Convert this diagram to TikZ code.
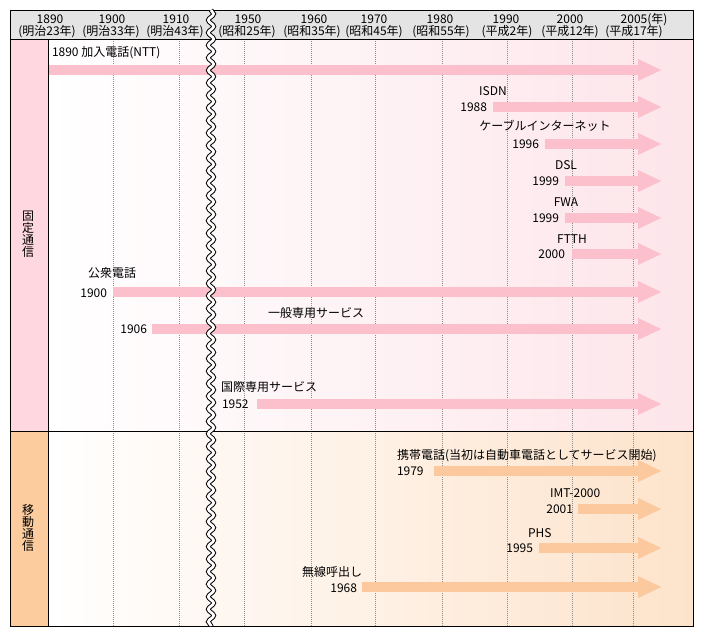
\documentclass[tikz,border=0pt]{standalone}
\usepackage{fontspec}
\setmainfont{Noto Sans CJK JP}
\usetikzlibrary{arrows.meta,decorations.pathmorphing}
\definecolor{hdrgray}{HTML}{E4E4E4}
\definecolor{fixlab}{HTML}{FFD7E0}
\definecolor{moblab}{HTML}{FCCB9E}
\definecolor{fixbg}{HTML}{FDE5EA}
\definecolor{mobbg}{HTML}{FDE3CB}
\definecolor{fixarr}{HTML}{FCC0CC}
\definecolor{mobarr}{HTML}{FCC89E}
\definecolor{gridgray}{HTML}{8C8C8C}
\begin{document}
\begin{tikzpicture}[x=0.75pt,y=-0.75pt,
  font=\fontsize{9}{10}\selectfont,
  txt/.style={inner sep=0pt, outer sep=0pt},
  frame/.style={draw=black, line width=0.75pt},
  gridline/.style={draw=gridgray, line width=0.6pt, dash pattern=on 0.75pt off 0.75pt},
  fixarrow/.style={draw=fixarr, line width=8pt, line cap=butt, -{Triangle[length=18pt,width=15pt]}},
  mobarrow/.style={draw=mobarr, line width=8pt, line cap=butt, -{Triangle[length=18pt,width=15pt]}},
  vlabel/.style={inner sep=0pt, align=center, font=\fontsize{9}{9}\selectfont},
  breakline/.style={draw=black, line width=0.75pt, double=white, double distance=2pt,
    decorate, decoration={snake, segment length=9.4pt, amplitude=2pt}}]
\useasboundingbox (0,0) rectangle (703,637);
\fill[white] (0,0) rectangle (703,637);
% backgrounds
\fill[hdrgray] (10,10) rectangle (693,39);
\fill[fixlab] (10,39) rectangle (48,431);
\fill[moblab] (10,431) rectangle (48,626);
\shade[left color=white, right color=fixbg] (48,39) rectangle (693,431);
\shade[left color=white, right color=mobbg] (48,431) rectangle (693,626);
% grid lines
\foreach \gx in {113,179,244,311,375,442,507,572,633}
  \draw[gridline] (\gx,39) -- (\gx,626);
% header
\foreach \nm/\yx/\yt/\ex/\et in {
  a/50/1890/47/(明治23年), b/112/1900/111/(明治33年), c/176/1910/175/(明治43年),
  d/248/1950/247/(昭和25年), e/314/1960/312/(昭和35年), f/374/1970/374/(昭和45年),
  g/440/1980/441/(昭和55年), h/506/1990/507/(平成2年), i/570/2000/570/(平成12年),
  j/634/2005/634/(平成17年)} {
  \node[txt, anchor=base] (yr\nm) at (\yx,23.5) {\yt};
  \node[txt, anchor=base] (era\nm) at (\ex,35.5) {\et};
}
\node[txt, anchor=base west] (nen) at (yrj.base east) {(年)};
% side labels
\node[vlabel] (lfix) at (28,234) {固\\定\\通\\信};
\node[vlabel] (lmob) at (28,528) {移\\動\\通\\信};
% fixed arrows
\foreach \n/\xs/\yy in {ntt/48/70, isdn/493/107, catv/545/144, dsl/565/181,
  fwa/565/218, ftth/572/254, pub/113/292, lease/152/329, intl/257/404} {
  \coordinate (\n s) at (\xs,\yy);
  \coordinate (\n e) at (662,\yy);
  \draw[fixarrow] (\n s) -- (\n e);
}
% mobile arrows
\foreach \n/\xs/\yy in {cell/434/471, imt/578/509, phs/539/548, pager/362/587} {
  \coordinate (\n s) at (\xs,\yy);
  \coordinate (\n e) at (662,\yy);
  \draw[mobarrow] (\n s) -- (\n e);
}
% fixed labels
\node[txt, anchor=base west] (tntt) at (52,56.5) {1890 加入電話(NTT)};
\node[txt, anchor=base] (tisdn) at (493,95.5) {ISDN};
\node[txt, anchor=base east] (yisdn) at (487,111.5) {1988};
\node[txt, anchor=base] (tcatv) at (545,130.5) {ケーブルインターネット};
\node[txt, anchor=base east] (ycatv) at (539,148.5) {1996};
\node[txt, anchor=base] (tdsl) at (566,169.5) {DSL};
\node[txt, anchor=base east] (ydsl) at (559,185.5) {1999};
\node[txt, anchor=base] (tfwa) at (566,206.5) {FWA};
\node[txt, anchor=base east] (yfwa) at (559,222.5) {1999};
\node[txt, anchor=base] (tftth) at (572,243.5) {FTTH};
\node[txt, anchor=base east] (yftth) at (565,258.5) {2000};
\node[txt, anchor=base] (tpub) at (112,277.5) {公衆電話};
\node[txt, anchor=base east] (ypub) at (107,297.5) {1900};
\node[txt, anchor=base] (tlease) at (316,317.5) {一般専用サービス};
\node[txt, anchor=base east] (ylease) at (147,333.5) {1906};
\node[txt, anchor=base west] (tintl) at (221,391.5) {国際専用サービス};
\node[txt, anchor=base west] (yintl) at (222,408.5) {1952};
% mobile labels
\node[txt, anchor=base west] (tcell) at (397,459.5) {携帯電話(当初は自動車電話としてサービス開始)};
\node[txt, anchor=base west] (ycell) at (397,475.5) {1979};
\node[txt, anchor=base west] (timt) at (550,497.5) {IMT-2000};
\node[txt, anchor=base east] (yimt) at (573,513.5) {2001};
\node[txt, anchor=base west] (tphs) at (528,537.5) {PHS};
\node[txt, anchor=base east] (yphs) at (533,552.5) {1995};
\node[txt, anchor=base west] (tpager) at (302,576.5) {無線呼出し};
\node[txt, anchor=base east] (ypager) at (357,592.5) {1968};
% frame
\draw[frame] (10,10) rectangle (693,626);
\draw[frame] (10,39) -- (693,39);
\draw[frame] (48,39) -- (48,626);
\draw[frame] (10,431) -- (693,431);
% break
\coordinate (brktop) at (211,10);
\coordinate (brkbot) at (211,626);
\draw[breakline] (brktop) -- (brkbot);
\end{tikzpicture}
\end{document}
